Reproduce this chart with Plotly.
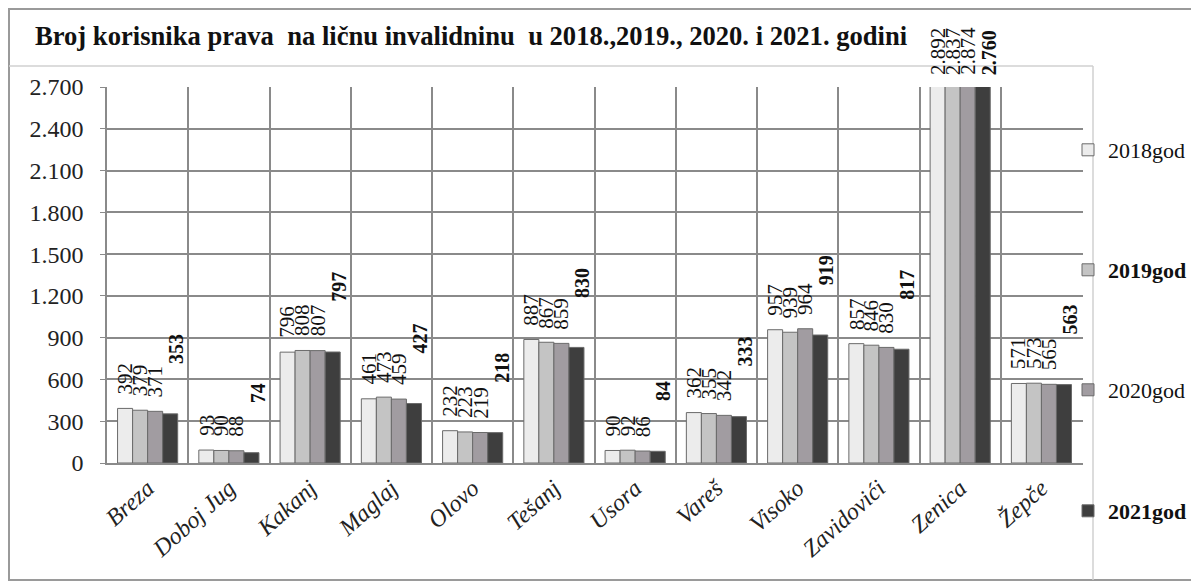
import plotly.graph_objects as go

categories = ["Breza", "Doboj Jug", "Kakanj", "Maglaj", "Olovo", "Tešanj",
              "Usora", "Vareš", "Visoko", "Zavidovići", "Zenica", "Žepče"]
series_names = ["2018god", "<b>2019god</b>", "2020god", "<b>2021god</b>"]
v2018 = [392, 93, 796, 461, 232, 887, 90, 362, 957, 857, 2892, 571]
v2019 = [379, 90, 808, 473, 223, 867, 92, 355, 939, 846, 2837, 573]
v2020 = [371, 88, 807, 459, 219, 859, 86, 342, 964, 830, 2874, 565]
v2021 = [353, 74, 797, 427, 218, 830, 84, 333, 919, 817, 2760, 563]
tick_vals = [0, 300, 600, 900, 1200, 1500, 1800, 2100, 2400, 2700]
title_text = "Broj korisnika prava  na ličnu invalidninu  u 2018.,2019., 2020. i 2021. godini"

series = [v2018, v2019, v2020, v2021]
colors = ["#ececec", "#c4c4c4", "#a19ca1", "#3e3e3e"]
legend_py = [150, 270, 390, 511]   # page y of each legend item
OFF = 8  # page body margin
W, H = 1199 - OFF, 584 - OFF
ML, MR, MT, MB = 107 - OFF, 116, 87 - OFF, 121
YMAX = 2700
BARGAP = 0.26

SERIF = "Liberation Serif, Times New Roman, serif"

def fmt(v):
    return f"{v:,}".replace(",", ".")

legend_ids = ["legend", "legend2", "legend3", "legend4"]

fig = go.Figure()
for i, (name, vals) in enumerate(zip(series_names, series)):
    fig.add_trace(go.Bar(
        x=categories, y=vals, name=name, showlegend=True,
        marker=dict(color=colors[i], line=dict(color="#6a6a6a", width=1)),
        legend=legend_ids[i],
    ))

plot_w = W - ML - MR
plot_h = H - MT - MB
cat_w = plot_w / len(categories)
bar_w = cat_w * (1 - BARGAP) / 4

annotations = []
for i, vals in enumerate(series):
    last = (i == 3)
    for c, v in zip(categories, vals):
        clipped = v > YMAX
        annotations.append(dict(
            x=c, y=min(v, YMAX), xref="x", yref="y",
            text=f"<b>{fmt(v)}</b>" if last else fmt(v),
            textangle=-90, showarrow=False,
            xanchor="center", yanchor="bottom",
            xshift=(i - 1.5) * bar_w + (6 if last else 0),
            yshift=(10 if clipped else (48 if last else 12)),
            font=dict(family=SERIF, size=20 if last else 21, color="#111"),
        ))

def px_x(p):
    return (p - OFF - ML) / plot_w

def px_y(p):
    return ((H - MB) - (p - OFF)) / plot_h

shapes = [
    dict(type="rect", xref="paper", yref="paper",
         x0=px_x(9), x1=px_x(1210), y0=px_y(580), y1=px_y(9),
         line=dict(color="#9a9a9a", width=2), fillcolor="rgba(0,0,0,0)", layer="above"),
    dict(type="line", xref="paper", yref="paper",
         x0=px_x(9), x1=px_x(1093), y0=px_y(66), y1=px_y(66),
         line=dict(color="#d0d0d0", width=1.5), layer="above"),
    dict(type="line", xref="paper", yref="paper",
         x0=px_x(1093), x1=px_x(1093), y0=px_y(66), y1=px_y(580),
         line=dict(color="#d0d0d0", width=1.5), layer="above"),
]

legends = {}
for i, lid in enumerate(legend_ids):
    legends[lid] = dict(
        x=(1068 - OFF) / W, xanchor="left", xref="container",
        y=1 - (legend_py[i] - OFF) / H, yanchor="middle", yref="container",
        font=dict(family=SERIF, size=22, color="#111"),
        itemwidth=30, bgcolor="rgba(0,0,0,0)", visible=True,
    )

fig.update_layout(
    width=W, height=H, showlegend=True,
    margin=dict(l=ML, r=MR, t=MT, b=MB, autoexpand=False),
    paper_bgcolor="white", plot_bgcolor="white",
    barmode="group", bargap=BARGAP, bargroupgap=0,
    separators=",.",
    title=dict(text=f"<b>{title_text}</b>", x=(35 - OFF) / W, xanchor="left",
               xref="container", yref="container", y=1 - (36 - OFF) / H, yanchor="middle",
               font=dict(family=SERIF, size=26.6, color="#111")),
    xaxis=dict(tickson="boundaries", showgrid=True, gridcolor="#8a8a8a", gridwidth=1.5,
               showline=True, linecolor="#8a8a8a", linewidth=1.5,
               tickangle=-42, ticks="", automargin=False,
               tickfont=dict(family=SERIF, size=24, color="#222", style="italic")),
    yaxis=dict(range=[0, YMAX], tickvals=tick_vals, tickformat=",d",
               showgrid=True, gridcolor="#8a8a8a", gridwidth=1.5,
               showline=True, linecolor="#8a8a8a", linewidth=1.5,
               ticks="outside", ticklen=5, tickcolor="#8a8a8a", automargin=False,
               ticklabelstandoff=12, zeroline=False,
               tickfont=dict(family=SERIF, size=24, color="#222")),
    annotations=annotations,
    shapes=shapes,
    **legends,
)

fig.write_html("out.html")
